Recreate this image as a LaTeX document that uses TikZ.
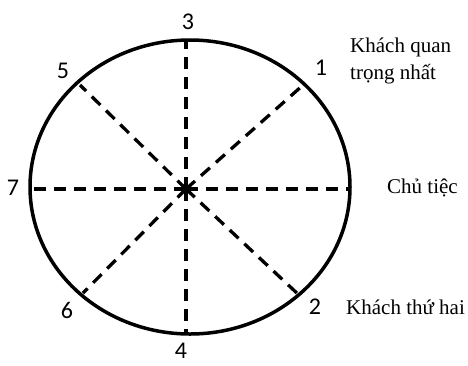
\documentclass[tikz,border=0pt]{standalone}
\usepackage{fontspec}
\setmainfont{Liberation Serif}
\newfontfamily\numfont{Carlito}
\usetikzlibrary{positioning}

\tikzset{
  seat/.style={font=\numfont\fontsize{24}{26}\selectfont, inner sep=0pt},
  guest/.style={font=\fontsize{21}{27}\selectfont, inner sep=0pt, align=left},
  cut/.style={line width=3.3pt, dash pattern=on 12pt off 8pt},
}

\begin{document}
\begin{tikzpicture}[x=1pt, y=-1pt]
    \useasboundingbox (0,0) rectangle (468,365);
    \coordinate (O) at (186,189);
    \coordinate (P3) at (186,40);
    \coordinate (P4) at (186,334);
    \coordinate (P7) at (30,189);
    \coordinate (P0) at (350,189);
    \coordinate (P1) at (302,86);
    \coordinate (P5) at (80,85);
    \coordinate (P6) at (83,293);
    \coordinate (P2) at (300,296);
    \draw[line width=3.5pt] (190,187) ellipse [x radius=160, y radius=147];
    \draw[cut] (O) -- (P3);
    \draw[cut] (O) -- (P4);
    \draw[cut] (O) -- (P7);
    \draw[cut] (O) -- (P0);
    \draw[cut] (O) -- (P1);
    \draw[cut] (O) -- (P2);
    \draw[cut] (O) -- (P5);
    \draw[cut] (O) -- (P6);
    % so ghe
    \node[seat] (n3) at (188,22) {3};
    \node[seat] (n4) at (181,351) {4};
    \node[seat] (n7) at (13,188) {7};
    \node[seat] (n5) at (63,71) {5};
    \node[seat] (n1) at (321,68) {1};
    \node[seat] (n6) at (67,310) {6};
    \node[seat] (n2) at (315,307) {2};
    % khach
    \node[guest, anchor=north west] (vip) at (350,38) {Khách quan\\trọng nhất};
    \node[guest, anchor=west] (host) at (387,188) {Chủ tiệc};
    \node[guest, anchor=west] (second) at (346,307) {Khách thứ hai};
\end{tikzpicture}
\end{document}
